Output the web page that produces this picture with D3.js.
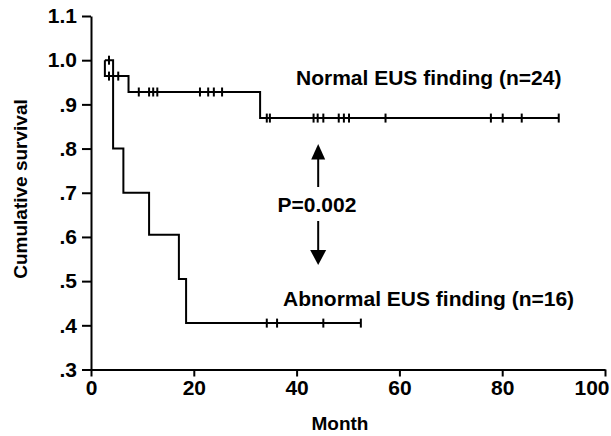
<!DOCTYPE html>
<html>
<head>
<meta charset="utf-8">
<script src="https://cdnjs.cloudflare.com/ajax/libs/d3/7.8.5/d3.min.js"></script>
<style>
  body { margin: 0; background: #fff; }
  text { font-family: "Liberation Sans", Arial, sans-serif; font-weight: bold; fill: #000; }
</style>
</head>
<body>
<script>
// survival curves (months, cumulative survival)
var normalStart = 2.7;
var normalEventMonths = [2.7, 7.3, 32.9];
var normalSurvival = [0.964, 0.928, 0.869];
var normalCensored = [3.5, 5.3, 9.3, 11.3, 12.1, 12.9, 21.2, 22.8, 23.9, 25.5,
                      34.2, 34.8, 43.3, 44.1, 45.2, 48.2, 49.2, 50.2, 57.3,
                      77.8, 80.1, 83.8, 91.0];

var abnormalStart = 2.7;
var abnormalEventMonths = [4.3, 6.3, 11.3, 17.1, 18.5];
var abnormalSurvival = [0.8, 0.7, 0.605, 0.505, 0.405];
var abnormalCensored = [3.5, 34.2, 36.2, 45.2, 52.5];

var xTicks = [0, 20, 40, 60, 80, 100];
var yTicks = [0.3, 0.4, 0.5, 0.6, 0.7, 0.8, 0.9, 1.0, 1.1];
var yTickLabels = [".3", ".4", ".5", ".6", ".7", ".8", ".9", "1.0", "1.1"];

var WIDTH = 611, HEIGHT = 436;

var svg = d3.select("body").append("svg")
    .attr("width", WIDTH)
    .attr("height", HEIGHT);

var x = d3.scaleLinear().domain([0, 100]).range([91, 605]);
var y = d3.scaleLinear().domain([0.3, 1.1]).range([369.5, 16]);

// axes
var xAxis = svg.append("g")
    .attr("transform", "translate(0," + y(0.3) + ")")
    .call(d3.axisBottom(x).tickValues(xTicks).tickSize(7).tickSizeOuter(0).tickPadding(4)
          .tickFormat(d3.format("d")));

var yAxis = svg.append("g")
    .attr("transform", "translate(" + x(0) + ",0)")
    .call(d3.axisLeft(y).tickValues(yTicks).tickSize(9).tickSizeOuter(0).tickPadding(5)
          .tickFormat(function (d, i) { return yTickLabels[i]; }));

svg.selectAll(".domain, .tick line")
    .attr("stroke", "#000")
    .attr("stroke-width", 2);
svg.selectAll(".tick text")
    .style("font-size", "21px")
    .style("font-family", "'Liberation Sans', Arial, sans-serif")
    .style("font-weight", "bold")
    .attr("fill", "#000");

// last x label sits flush with the right edge
xAxis.selectAll(".tick text")
    .filter(function (d) { return d === 100; })
    .attr("text-anchor", "end")
    .attr("x", 4);

// axis titles
svg.append("text")
    .attr("x", 340)
    .attr("y", 430)
    .attr("text-anchor", "middle")
    .style("font-size", "19px")
    .text("Month");

svg.append("text")
    .attr("transform", "translate(27,189) rotate(-90)")
    .attr("text-anchor", "middle")
    .style("font-size", "19px")
    .text("Cumulative survival");

// step curves
function stepPoints(start, months, surv, end)
{
  var pts = [[start, 1.0]];
  for (var i = 0; i < months.length; i++)
  {
    pts.push([months[i], surv[i]]);
  }
  pts.push([end, surv[surv.length - 1]]);
  return pts;
}

function survivalAt(t, months, surv)
{
  var s = 1.0;
  for (var i = 0; i < months.length; i++)
  {
    if (months[i] <= t) s = surv[i];
  }
  return s;
}

var line = d3.line()
    .x(function (d) { return x(d[0]); })
    .y(function (d) { return y(d[1]); })
    .curve(d3.curveStepAfter);

var groups = [
  { start: normalStart, months: normalEventMonths, surv: normalSurvival, cens: normalCensored },
  { start: abnormalStart, months: abnormalEventMonths, surv: abnormalSurvival, cens: abnormalCensored }
];

groups.forEach(function (g)
{
  var end = d3.max(g.cens);
  svg.append("path")
      .attr("d", line(stepPoints(g.start, g.months, g.surv, end)))
      .attr("fill", "none")
      .attr("stroke", "#000")
      .attr("stroke-width", 2);

  svg.selectAll(null)
      .data(g.cens)
      .enter()
      .append("line")
      .attr("x1", function (d) { return x(d); })
      .attr("x2", function (d) { return x(d); })
      .attr("y1", function (d) { return y(survivalAt(d, g.months, g.surv)) - 4.5; })
      .attr("y2", function (d) { return y(survivalAt(d, g.months, g.surv)) + 4.5; })
      .attr("stroke", "#000")
      .attr("stroke-width", 2);
});

// labels
svg.append("text")
    .attr("x", 296)
    .attr("y", 85)
    .style("font-size", "21px")
    .text("Normal EUS finding (n=24)");

svg.append("text")
    .attr("x", 283)
    .attr("y", 306)
    .style("font-size", "21px")
    .text("Abnormal EUS finding (n=16)");

svg.append("text")
    .attr("x", 317)
    .attr("y", 212)
    .attr("text-anchor", "middle")
    .style("font-size", "21px")
    .text("P=0.002");

// arrows
var ax = x(44.2);
svg.append("line")
    .attr("x1", ax).attr("x2", ax)
    .attr("y1", 187).attr("y2", 158)
    .attr("stroke", "#000").attr("stroke-width", 2);
svg.append("path")
    .attr("d", "M" + ax + ",144L" + (ax - 7) + ",159.5L" + (ax + 7) + ",159.5Z")
    .attr("fill", "#000");

svg.append("line")
    .attr("x1", ax).attr("x2", ax)
    .attr("y1", 221).attr("y2", 251)
    .attr("stroke", "#000").attr("stroke-width", 2);
svg.append("path")
    .attr("d", "M" + ax + ",265L" + (ax - 8) + ",250L" + (ax + 8) + ",250Z")
    .attr("fill", "#000");
</script>
</body>
</html>
